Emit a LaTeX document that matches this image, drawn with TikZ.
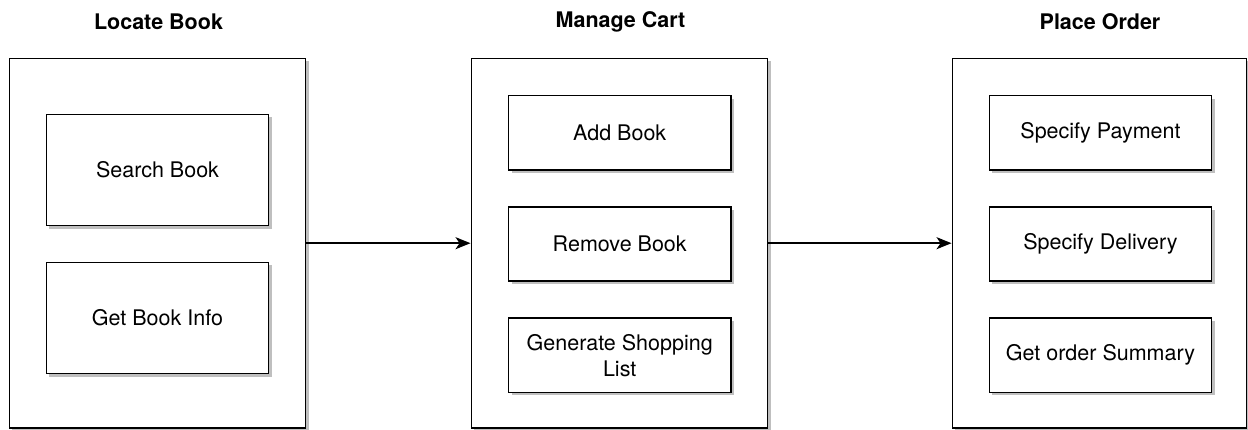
\documentclass[tikz,border=0pt]{standalone}
\usepackage{fontspec}
\setmainfont{TeX Gyre Heros}
\usetikzlibrary{shadows,arrows.meta}
\begin{document}
\begin{tikzpicture}[x=1pt,y=-1pt,
  shad/.style={drop shadow={shadow xshift=3pt,shadow yshift=-3pt,opacity=0.25,fill=black}},
  container/.style={draw=black,line width=1.5pt,fill=white,shad,rectangle,inner sep=0pt,minimum height=369.7pt},
  item/.style={draw=black,line width=1.5pt,fill=white,shad,rectangle,inner sep=0pt,minimum width=222.4pt,
    font=\fontsize{21.5}{26}\selectfont,align=center},
  title/.style={font=\fontsize{21.5}{26}\selectfont\bfseries},
  arrow/.style={line width=1.5pt,-{Stealth[length=15pt,width=12pt,inset=4pt]}}]
\useasboundingbox (0,0) rectangle (1248,430);
% titles
\node[title] (t1) at (158.5,22) {Locate Book};
\node[title] (t2) at (620.5,22) {Manage Cart};
\node[title] (t3) at (1100,22) {Place Order};
% containers
\node[container,minimum width=296.4pt] (c1) at (157.5,243.2) {};
\node[container,minimum width=296.4pt] (c2) at (619.5,243.2) {};
\node[container,minimum width=294.2pt] (c3) at (1099.4,243.2) {};
% items left
\node[item,minimum height=111.4pt] (searchbook) at (157.5,170) {Search Book};
\node[item,minimum height=111.4pt] (getinfo) at (157.5,318) {Get Book Info};
% items middle
\node[item,minimum height=74.3pt] (addbook) at (619.7,132.9) {Add Book};
\node[item,minimum height=74.3pt] (removebook) at (619.7,244) {Remove Book};
\node[item,minimum height=74.3pt] (genlist) at (619.7,355.3) {Generate Shopping\\List};
% items right
\node[item,minimum height=74.3pt] (payment) at (1100.5,132.9) {Specify Payment};
\node[item,minimum height=74.3pt] (delivery) at (1100.5,244) {Specify Delivery};
\node[item,minimum height=74.3pt] (summary) at (1100.5,355.3) {Get order Summary};
% arrows
\draw[arrow] (c1.east) -- (c2.west);
\draw[arrow] (c2.east) -- (c3.west);
\end{tikzpicture}
\end{document}
